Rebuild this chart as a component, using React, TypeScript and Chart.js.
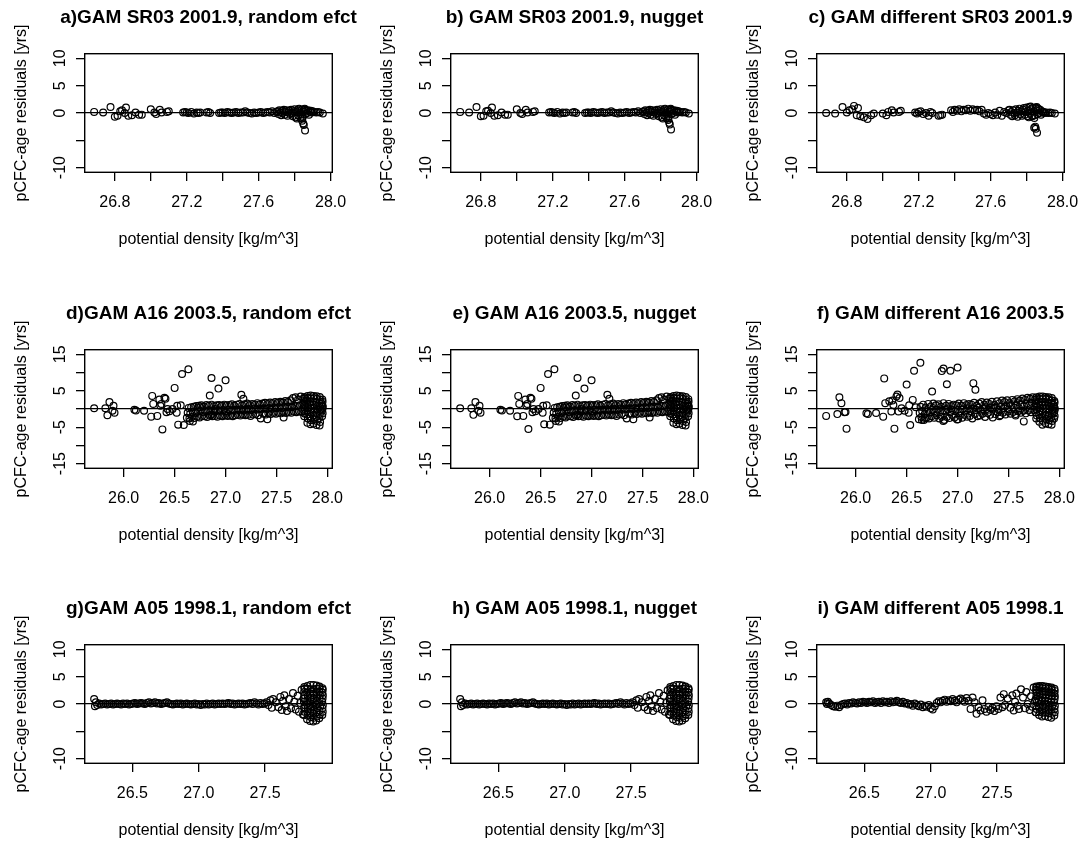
import { useEffect, useRef } from "react";
import { Chart, registerables } from "chart.js";

Chart.register(...registerables);

const FONT = '"Liberation Sans", Arial, Helvetica, sans-serif';

// ---------- SR03 2001.9 ----------
const SR03_DENSITY = [
  26.685, 26.735, 26.776, 26.8, 26.815, 26.83, 26.84, 26.855, 26.862, 26.875,
  26.895, 26.915, 26.935, 26.95, 27.0, 27.02, 27.03, 27.05, 27.06, 27.09,
  27.1,
  27.18, 27.19, 27.2, 27.21, 27.225, 27.24, 27.255, 27.265, 27.275,
  27.31, 27.32, 27.33,
  27.38, 27.39, 27.4, 27.412, 27.425, 27.437, 27.45, 27.462, 27.475, 27.487,
  27.5, 27.512, 27.525, 27.537, 27.55, 27.562, 27.575, 27.587, 27.6, 27.612,
  27.625, 27.637, 27.65, 27.662, 27.675, 27.687, 27.7,
  27.705, 27.71, 27.715, 27.72, 27.725, 27.73, 27.735, 27.74, 27.745, 27.75,
  27.755, 27.76, 27.765, 27.77, 27.775, 27.78, 27.785, 27.79, 27.795, 27.8,
  27.805, 27.81, 27.815, 27.82, 27.825, 27.83, 27.835, 27.84, 27.845, 27.85,
  27.855, 27.86, 27.865, 27.87, 27.875, 27.88, 27.885, 27.89, 27.895, 27.9,
  27.812, 27.822, 27.832, 27.842, 27.848, 27.852, 27.858, 27.843, 27.851, 27.856,
  27.91, 27.92, 27.93, 27.94, 27.957,
];
const SR03_RESID_RANDOM = [
  0.2, 0.1, 1.1, -0.7, -0.5, 0.3, 0.5, 0.0, 1.0, -0.5,
  -0.4, 0.1, -0.3, -0.3, 0.7, 0.1, -0.2, 0.6, 0.1, 0.2,
  0.3,
  0.1, 0.2, 0.1, 0.0, 0.2, -0.1, 0.1, 0.0, 0.1,
  0.1, 0.2, 0.0,
  0.0, 0.1, 0.1, 0.0, 0.2, 0.1, 0.0, 0.1, 0.2, 0.0,
  0.1, 0.1, 0.3, 0.1, 0.0, -0.1, 0.1, 0.0, 0.1, 0.2,
  0.0, 0.1, 0.2, 0.1, 0.3, 0.0, 0.2,
  0.3, -0.2, 0.5, 0.1, -0.4, 0.4, 0.0, 0.6, -0.3, 0.2,
  0.5, -0.5, 0.1, 0.4, -0.2, 0.6, 0.0, -0.6, 0.3, 0.7,
  -0.8, 0.2, 0.5, -0.4, 0.8, 0.1, -0.3, 0.6, -0.7, 0.3,
  0.7, -0.2, 0.4, 0.0, 0.5, -0.3, 0.2, 0.4, 0.1, 0.3,
  -1.0, 0.7, -0.9, -1.4, -1.9, 0.6, -3.2, -1.0, -2.2, 0.8,
  0.2, 0.1, 0.2, 0.1, -0.1,
];
const SR03_RESID_NUGGET = [
  0.2, 0.1, 1.1, -0.6, -0.5, 0.3, 0.4, 0.0, 1.0, -0.5,
  -0.4, 0.1, -0.3, -0.3, 0.7, 0.0, -0.2, 0.6, 0.1, 0.2,
  0.3,
  0.1, 0.2, 0.1, 0.0, 0.2, -0.1, 0.1, 0.0, 0.1,
  0.1, 0.2, 0.0,
  0.0, 0.1, 0.1, 0.0, 0.2, 0.1, 0.0, 0.1, 0.2, 0.0,
  0.1, 0.1, 0.3, 0.1, 0.0, -0.1, 0.1, 0.0, 0.1, 0.2,
  0.0, 0.1, 0.2, 0.1, 0.3, 0.0, 0.2,
  0.3, -0.2, 0.5, 0.1, -0.4, 0.4, 0.0, 0.6, -0.3, 0.2,
  0.5, -0.5, 0.1, 0.4, -0.2, 0.6, 0.0, -0.6, 0.3, 0.7,
  -0.8, 0.2, 0.5, -0.4, 0.8, 0.1, -0.3, 0.6, -0.7, 0.3,
  0.7, -0.2, 0.4, 0.0, 0.5, -0.3, 0.2, 0.4, 0.1, 0.3,
  -1.0, 0.7, -0.9, -1.3, -1.8, 0.6, -3.0, -1.0, -2.1, 0.8,
  0.2, 0.1, 0.2, 0.1, -0.1,
];
const SR03_RESID_DIFFERENT = [
  0.0, -0.1, 1.1, 0.1, 0.5, 0.7, 1.3, -0.4, 0.9, -0.6,
  -0.8, -1.1, -0.4, -0.1, -0.1, -0.4, 0.2, 0.5, 0.1, 0.2,
  0.4,
  0.1, -0.1, 0.2, 0.3, -0.2, 0.0, -0.5, 0.2, 0.0,
  -0.5, -0.4, -0.3,
  0.5, 0.2, 0.6, 0.4, 0.7, 0.3, 0.6, 0.5, 0.8, 0.4,
  0.7, 0.5, 0.6, 0.3, 0.6, -0.1, -0.3, 0.0, -0.2, -0.4,
  0.1, -0.3, 0.4, -0.5, 0.2, 0.0, 0.5,
  0.6, -0.3, 0.2, -0.6, 0.5, 0.0, -0.4, 0.7, 0.1, -0.7,
  0.4, 0.8, -0.2, 0.3, -0.5, 0.6, 0.9, -0.3, 0.2, 1.0,
  -0.6, 0.4, 1.1, -0.1, 0.7, -0.5, 0.9, 0.3, -0.4, 1.0,
  0.5, -0.2, 0.8, 0.0, 0.6, -0.3, 0.3, 0.1, 0.2, 0.0,
  -0.8, 1.2, -0.6, -2.7, -2.5, 0.9, -3.6, -0.9, -2.9, 1.1,
  0.1, 0.0, 0.1, 0.0, -0.1,
];

// ---------- A16 2003.5 ----------
const A16_DENSITY = [
  25.71, 25.82, 25.84, 25.86, 25.89, 25.9, 25.91, 26.105, 26.12, 26.2,
  26.27, 26.28, 26.29, 26.33, 26.35, 26.36, 26.37, 26.38, 26.4, 26.41,
  26.42, 26.43, 26.45, 26.48, 26.5, 26.52, 26.525, 26.535, 26.573, 26.56,
  26.59, 26.635, 26.65, 26.68, 26.75, 26.845, 26.862, 26.895, 26.93, 27.0,
  27.155, 27.175, 27.41, 27.57, 26.86, 27.005, 27.65,
  26.62, 26.628, 26.637, 26.645, 26.653, 26.662, 26.67, 26.678, 26.687, 26.695,
  26.703, 26.712, 26.72, 26.728, 26.737, 26.745, 26.753, 26.762, 26.77, 26.778,
  26.787, 26.795, 26.803, 26.812, 26.82, 26.828, 26.837, 26.845, 26.853, 26.862,
  26.87, 26.878, 26.887, 26.895, 26.903, 26.912, 26.92, 26.928, 26.937, 26.945,
  26.953, 26.962, 26.97, 26.978, 26.987, 26.995, 27.003, 27.012, 27.02, 27.028,
  27.037, 27.045, 27.053, 27.062, 27.07, 27.078, 27.087, 27.095, 27.103, 27.112,
  27.12, 27.128, 27.137, 27.145, 27.153, 27.162, 27.17, 27.178, 27.187, 27.195,
  27.203, 27.212, 27.22, 27.228, 27.237, 27.245, 27.253, 27.262, 27.27, 27.278,
  27.287, 27.295, 27.303, 27.312, 27.32, 27.328, 27.337, 27.345, 27.353, 27.362,
  27.37, 27.378, 27.387, 27.395, 27.403, 27.412, 27.42, 27.428, 27.437, 27.445,
  27.453, 27.462, 27.47, 27.478, 27.487, 27.495, 27.503, 27.512, 27.52, 27.528,
  27.537, 27.545, 27.553, 27.562, 27.57, 27.578, 27.587, 27.595, 27.603, 27.612,
  27.62, 27.628, 27.637, 27.645, 27.653, 27.662, 27.67, 27.678, 27.687, 27.695,
  27.703, 27.712, 27.72, 27.728, 27.737, 27.745, 27.753, 27.762,
  27.772, 27.778, 27.77, 27.776, 27.781, 27.774, 27.769, 27.779, 27.775,
  27.803, 27.808, 27.801, 27.806, 27.81, 27.804, 27.799, 27.807, 27.805,
  27.833, 27.838, 27.831, 27.836, 27.84, 27.834, 27.829, 27.837, 27.835,
  27.863, 27.868, 27.861, 27.866, 27.87, 27.864, 27.859, 27.867, 27.865,
  27.893, 27.898, 27.891, 27.896, 27.9, 27.894, 27.889, 27.897, 27.895,
  27.923, 27.928, 27.921, 27.926, 27.93, 27.924, 27.919, 27.927, 27.925,
  27.948, 27.953, 27.946, 27.951, 27.955, 27.949, 27.944, 27.952, 27.95,
];
const A16_RESID_RANDOM = [
  0.2, 0.2, -1.7, 1.9, -0.5, 0.9, -1.0, -0.2, -0.4, -0.5,
  -2.1, 3.6, 1.4, -1.9, 2.6, 0.9, 1.4, -5.6, 3.1, 2.8,
  -0.9, 0.0, -0.6, 0.0, 5.8, -1.0, 0.9, -4.3, 9.6, 1.0,
  -4.4, 10.9, -3.3, -3.4, 0.5, 3.7, 8.5, 0.0, 5.6, 7.9,
  3.9, 2.8, -2.8, -2.3, -1.5, -1.0, 0.5,
  -2.4, -1.0, 0.3, -2.6, -1.3, 0.5, -2.2, -0.9, 0.6, -2.5,
  -1.1, 0.8, -2.1, -0.7, 0.9, -2.3, -0.5, 1.0, -1.9, -0.8,
  0.7, -2.0, -0.6, 1.1, -2.2, -0.4, 0.9, -1.8, -0.7, 1.2,
  -2.0, -0.5, 0.8, -1.9, -0.6, 1.0, -2.1, -0.4, 1.1, -1.8,
  -0.5, 0.9, -2.0, -0.3, 1.2, -1.7, -0.6, 1.0, -1.9, -0.2,
  1.1, -1.8, -0.4, 1.3, -2.0, -0.3, 0.9, -1.7, -0.2, 1.2,
  -1.6, -0.3, 1.4, -1.8, -0.1, 1.0, -1.5, -0.4, 1.3, -1.7,
  -0.2, 1.5, -1.6, 0.0, 1.1, -1.9, -0.3, 1.4, -1.5, 0.1,
  1.2, -1.4, -0.2, 1.6, -1.7, 0.1, 1.3, -2.6, 0.0, 1.5,
  -1.3, 0.2, 1.7, -1.5, 0.0, 1.4, -1.2, 0.3, 1.8, -1.4,
  0.1, 1.6, -1.1, 0.4, 1.9, -1.3, 0.2, 1.7, -1.0, 0.5,
  2.0, -1.2, 0.3, 1.8, -0.9, 0.6, 2.2, -1.1, 0.5, 1.9,
  -0.8, 0.7, 2.4, -1.0, 0.6, 3.0, -0.7, 0.9, 3.2, -0.9,
  0.8, 2.6, -0.6, 1.0, 3.4, -0.8, 1.2, 2.8,
  -2.0, -1.3, -0.6, 0.1, 0.8, 1.5, 2.2, 2.9, 3.3,
  -3.8, -2.6, -1.5, -0.5, 0.5, 1.4, 2.3, 3.1, 3.6,
  -4.2, -3.1, -2.0, -0.9, 0.1, 1.1, 2.0, 2.9, 3.7,
  -4.0, -2.9, -1.8, -0.8, 0.2, 1.2, 2.1, 3.0, 3.6,
  -4.4, -3.3, -2.2, -1.1, -0.1, 0.9, 1.9, 2.8, 3.5,
  -4.5, -3.6, -2.5, -1.4, -0.3, 0.7, 1.6, 2.5, 3.3,
  -2.0, -1.2, -0.5, 0.0, 0.6, 1.0, 1.5, 2.0, 2.6,
];
const A16_RESID_NUGGET = [
  0.2, 0.2, -1.6, 1.9, -0.5, 0.9, -1.0, -0.2, -0.4, -0.5,
  -2.0, 3.6, 1.4, -1.9, 2.6, 0.9, 1.4, -5.5, 3.1, 2.8,
  -0.9, 0.0, -0.6, 0.0, 5.8, -1.0, 0.9, -4.2, 9.6, 1.0,
  -4.3, 10.9, -3.3, -3.4, 0.5, 3.7, 8.5, 0.0, 5.6, 7.9,
  3.9, 2.8, -2.8, -2.3, -1.5, -1.0, 0.5,
  -2.4, -1.0, 0.3, -2.6, -1.3, 0.5, -2.2, -0.9, 0.6, -2.5,
  -1.1, 0.8, -2.1, -0.7, 0.9, -2.3, -0.5, 1.0, -1.9, -0.8,
  0.7, -2.0, -0.6, 1.1, -2.2, -0.4, 0.9, -1.8, -0.7, 1.2,
  -2.0, -0.5, 0.8, -1.9, -0.6, 1.0, -2.1, -0.4, 1.1, -1.8,
  -0.5, 0.9, -2.0, -0.3, 1.2, -1.7, -0.6, 1.0, -1.9, -0.2,
  1.1, -1.8, -0.4, 1.3, -2.0, -0.3, 0.9, -1.7, -0.2, 1.2,
  -1.6, -0.3, 1.4, -1.8, -0.1, 1.0, -1.5, -0.4, 1.3, -1.7,
  -0.2, 1.5, -1.6, 0.0, 1.1, -1.9, -0.3, 1.4, -1.5, 0.1,
  1.2, -1.4, -0.2, 1.6, -1.7, 0.1, 1.3, -2.6, 0.0, 1.5,
  -1.3, 0.2, 1.7, -1.5, 0.0, 1.4, -1.2, 0.3, 1.8, -1.4,
  0.1, 1.6, -1.1, 0.4, 1.9, -1.3, 0.2, 1.7, -1.0, 0.5,
  2.0, -1.2, 0.3, 1.8, -0.9, 0.6, 2.2, -1.1, 0.5, 1.9,
  -0.8, 0.7, 2.4, -1.0, 0.6, 3.0, -0.7, 0.9, 3.2, -0.9,
  0.8, 2.6, -0.6, 1.0, 3.4, -0.8, 1.2, 2.8,
  -2.0, -1.3, -0.6, 0.1, 0.8, 1.5, 2.2, 2.9, 3.3,
  -3.8, -2.6, -1.5, -0.5, 0.5, 1.4, 2.3, 3.1, 3.6,
  -4.2, -3.1, -2.0, -0.9, 0.1, 1.1, 2.0, 2.9, 3.7,
  -4.0, -2.9, -1.8, -0.8, 0.2, 1.2, 2.1, 3.0, 3.6,
  -4.4, -3.3, -2.2, -1.1, -0.1, 0.9, 1.9, 2.8, 3.5,
  -4.5, -3.6, -2.5, -1.4, -0.3, 0.7, 1.6, 2.5, 3.3,
  -2.0, -1.2, -0.5, 0.0, 0.6, 1.0, 1.5, 2.0, 2.7,
];
const A16_RESID_DIFFERENT = [
  -1.9, -1.4, 3.2, 1.6, -0.9, -0.8, -5.4, -1.2, -1.4, -1.1,
  -2.1, 8.4, 1.6, 2.1, -0.7, 2.3, 1.1, -5.4, 3.4, 4.0,
  -0.7, 3.0, 0.2, -0.5, 6.7, -1.0, 1.0, -4.4, 10.5, 2.5,
  0.5, 12.7, -3.0, -2.5, 4.8, 10.4, 11.1, 6.8, 10.5, 11.4,
  7.1, 5.3, -2.0, -1.8, -3.3, -2.8, -3.4,
  -2.8, -1.1, 0.6, -2.2, -0.6, 1.2, -3.0, -1.4, 0.4, -2.4,
  -0.8, 1.4, -2.6, -0.9, 0.7, -2.0, -0.3, 1.5, -2.4, -1.0,
  1.0, -1.7, -0.2, 1.3, -2.6, -0.8, 0.6, -2.1, -0.5, 1.6,
  -3.0, -0.7, 0.9, -2.2, -0.1, 1.4, -2.5, -0.9, 0.8, -1.6,
  -0.3, 1.2, -2.3, -0.6, 1.0, -2.9, -0.2, 1.5, -1.8, -0.7,
  0.9, -2.4, -0.1, 1.6, -1.6, -0.5, 1.1, -2.1, 0.2, 1.4,
  -1.9, -0.6, 1.2, -2.6, 0.1, 1.7, -1.4, -0.3, 0.9, -2.0,
  0.3, 1.5, -1.8, -0.4, 1.9, -1.3, 0.0, 1.2, -2.2, 0.5,
  1.8, -1.1, -0.2, 1.4, -1.6, 0.4, 2.0, -2.3, 0.1, 1.1,
  -1.4, 0.5, 2.1, -0.9, -0.2, 1.6, -1.7, 0.7, 2.3, -1.0,
  0.3, 1.9, -1.5, 0.8, 2.4, -0.7, -0.1, 1.6, -1.3, 1.0,
  2.5, -0.8, 0.4, 2.1, -1.4, 1.1, 2.7, -0.6, 0.2, 2.3,
  -1.0, 1.3, 2.9, -0.5, 0.8, 2.5, -1.2, 1.5, 3.1, -0.4,
  1.0, 2.8, -0.9, 1.7, 3.2, -0.3, 0.6, 2.6,
  -2.6, -1.8, -1.0, -0.2, 0.6, 1.4, 2.1, 2.7, 3.2,
  -3.5, -2.5, -1.5, -0.6, 0.3, 1.2, 2.0, 2.8, 3.4,
  -4.3, -3.2, -2.1, -1.0, 0.0, 1.0, 1.9, 2.7, 3.4,
  -3.9, -2.8, -1.8, -0.8, 0.2, 1.1, 2.0, 2.8, 3.3,
  -4.2, -3.1, -2.0, -1.0, 0.0, 0.9, 1.8, 2.6, 3.2,
  -4.3, -3.3, -2.3, -1.3, -0.3, 0.6, 1.5, 2.3, 3.0,
  -2.6, -1.9, -1.2, -0.5, 0.1, 0.6, 1.1, 1.7, 2.2,
];

// ---------- A05 1998.1 ----------
const A05_DENSITY = [
  26.212, 26.218, 26.225, 26.235, 26.25, 26.265, 26.28, 26.295, 26.31, 26.325,
  26.34, 26.355, 26.37, 26.385, 26.4, 26.415, 26.43, 26.445, 26.46, 26.475,
  26.49, 26.505, 26.52, 26.535, 26.55, 26.565, 26.58, 26.595, 26.61, 26.625,
  26.64, 26.655, 26.67, 26.685, 26.7, 26.715, 26.73, 26.745, 26.76, 26.775,
  26.79, 26.805, 26.82, 26.835, 26.85, 26.865, 26.88, 26.895, 26.91, 26.925,
  26.94, 26.955, 26.97, 26.985, 27.0, 27.015, 27.03, 27.045, 27.06, 27.075,
  27.09, 27.105, 27.12, 27.135, 27.15, 27.165, 27.18, 27.195, 27.21, 27.225,
  27.24, 27.255, 27.27, 27.285, 27.3, 27.315, 27.33, 27.345, 27.36, 27.375,
  27.39, 27.405, 27.42, 27.435, 27.45, 27.465, 27.48, 27.495, 27.51, 27.525,
  27.54, 27.55, 27.56,
  27.58, 27.6, 27.615, 27.625, 27.635, 27.645, 27.655, 27.665, 27.68, 27.695,
  27.71, 27.72, 27.73, 27.745, 27.755, 27.765, 27.775, 27.785, 27.79, 27.795,
  27.793, 27.797, 27.795, 27.799, 27.792, 27.796, 27.798, 27.794, 27.797, 27.795,
  27.816, 27.82, 27.818, 27.822, 27.815, 27.819, 27.821, 27.817, 27.82, 27.818,
  27.839, 27.843, 27.841, 27.845, 27.838, 27.842, 27.844, 27.84, 27.843, 27.841,
  27.862, 27.866, 27.864, 27.868, 27.861, 27.865, 27.867, 27.863, 27.866, 27.864,
  27.885, 27.889, 27.887, 27.891, 27.884, 27.888, 27.89, 27.886, 27.889, 27.887,
  27.908, 27.912, 27.91, 27.914, 27.907, 27.911, 27.913, 27.909, 27.912, 27.91,
  27.931, 27.934, 27.932, 27.935, 27.93, 27.933, 27.935, 27.931, 27.934, 27.932,
];
const A05_RESID_RANDOM = [
  0.9, -0.4, 0.3, -0.2, 0.1, -0.1, 0.0, 0.1, -0.1, 0.0,
  0.1, -0.1, 0.0, 0.1, 0.0, -0.1, 0.1, 0.0, 0.1, -0.1,
  0.0, 0.1, 0.2, 0.0, 0.1, 0.2, 0.1, 0.0, 0.2, 0.3,
  0.1, 0.2, 0.3, 0.1, 0.2, 0.0, 0.1, 0.2, 0.3, 0.1,
  0.0, -0.1, 0.0, 0.1, 0.0, 0.1, -0.1, 0.0, 0.1, 0.0,
  -0.1, 0.0, 0.1, -0.1, 0.0, -0.2, 0.0, -0.1, 0.1, -0.1,
  0.0, 0.1, -0.1, 0.0, 0.1, 0.0, 0.1, 0.0, 0.1, 0.2,
  0.0, 0.1, -0.1, 0.0, 0.1, 0.0, 0.1, -0.1, 0.0, 0.1,
  0.2, 0.0, 0.3, 0.1, -0.1, 0.2, 0.0, 0.1, 0.3, -0.2,
  0.7, -0.7, 0.9,
  0.3, -0.6, 1.3, -1.1, 0.6, 1.6, -0.4, -1.3, 0.9, -0.8,
  2.0, 0.4, -1.0, 1.5, -1.4, 0.2, 2.6, -1.9, 1.0, -0.6,
  -2.0, -1.4, -0.8, -0.2, 0.4, 1.0, 1.6, 2.2, 2.8, 3.1,
  -2.8, -2.1, -1.4, -0.7, 0.0, 0.7, 1.4, 2.1, 2.8, 3.3,
  -3.1, -2.4, -1.6, -0.9, -0.2, 0.5, 1.2, 1.9, 2.7, 3.5,
  -3.2, -2.5, -1.7, -1.0, -0.3, 0.4, 1.1, 1.9, 2.7, 3.5,
  -3.0, -2.3, -1.5, -0.8, -0.1, 0.6, 1.3, 2.1, 2.8, 3.4,
  -2.6, -1.9, -1.2, -0.5, 0.2, 0.9, 1.6, 2.3, 2.9, 3.2,
  -2.0, -1.4, -0.8, -0.2, 0.4, 1.0, 1.6, 2.1, 2.6, 2.9,
];
const A05_RESID_NUGGET = [
  0.9, -0.4, 0.3, -0.2, 0.1, -0.1, 0.0, 0.1, -0.1, 0.0,
  0.1, -0.1, 0.0, 0.1, 0.0, -0.1, 0.1, 0.0, 0.1, -0.1,
  0.0, 0.1, 0.2, 0.0, 0.1, 0.2, 0.1, 0.0, 0.2, 0.3,
  0.1, 0.2, 0.3, 0.1, 0.2, 0.0, 0.1, 0.2, 0.3, 0.1,
  0.0, -0.1, 0.0, 0.1, 0.0, 0.1, -0.1, 0.0, 0.1, 0.0,
  -0.1, 0.0, 0.1, -0.1, 0.0, -0.2, 0.0, -0.1, 0.1, -0.1,
  0.0, 0.1, -0.1, 0.0, 0.1, 0.0, 0.1, 0.0, 0.1, 0.2,
  0.0, 0.1, -0.1, 0.0, 0.1, 0.0, 0.1, -0.1, 0.0, 0.1,
  0.2, 0.0, 0.3, 0.1, -0.1, 0.2, 0.0, 0.1, 0.3, -0.2,
  0.7, -0.7, 0.9,
  0.3, -0.6, 1.3, -1.1, 0.6, 1.6, -0.4, -1.3, 0.9, -0.8,
  2.0, 0.4, -1.0, 1.5, -1.4, 0.2, 2.5, -1.9, 1.0, -0.6,
  -2.0, -1.4, -0.8, -0.2, 0.4, 1.0, 1.6, 2.2, 2.8, 3.1,
  -2.8, -2.1, -1.4, -0.7, 0.0, 0.7, 1.4, 2.1, 2.8, 3.3,
  -3.1, -2.4, -1.6, -0.9, -0.2, 0.5, 1.2, 1.9, 2.7, 3.5,
  -3.2, -2.5, -1.7, -1.0, -0.3, 0.4, 1.1, 1.9, 2.7, 3.5,
  -3.0, -2.3, -1.5, -0.8, -0.1, 0.6, 1.3, 2.1, 2.8, 3.4,
  -2.6, -1.9, -1.2, -0.5, 0.2, 0.9, 1.6, 2.3, 2.9, 3.2,
  -2.0, -1.4, -0.8, -0.2, 0.4, 1.0, 1.6, 2.1, 2.6, 2.9,
];
const A05_RESID_DIFFERENT = [
  0.3, 0.0, 0.4, 0.1, -0.2, -0.4, -0.5, -0.3, -0.6, -0.2,
  0.0, 0.1, -0.1, 0.2, 0.1, 0.3, 0.2, 0.1, 0.3, 0.2,
  0.4, 0.3, 0.2, 0.4, 0.3, 0.5, 0.2, 0.3, 0.4, 0.2,
  0.5, 0.3, 0.4, 0.2, 0.5, 0.3, 0.4, 0.6, 0.3, 0.2,
  0.4, 0.1, 0.2, -0.1, 0.0, -0.3, 0.1, -0.2, -0.4, -0.1,
  -0.6, -0.3, -0.5, -0.2, -0.8, -1.0, -0.4, 0.2, 0.5, 0.3,
  0.6, 0.8, 0.4, 0.7, 0.5, 0.9, 0.6, 0.3, 0.8, 1.0,
  0.7, 0.4, 1.1, 0.6, -0.9, 1.2, 0.3, -1.8, -0.6, -1.2,
  0.7, -0.9, -1.4, -0.5, -1.1, -0.7, -1.3, -0.4, -0.9, 1.2,
  -0.6, 1.8, -0.2,
  1.0, -0.7, 1.6, -1.2, 0.4, 1.9, -0.3, -0.9, 2.7, 1.2,
  -0.8, 2.2, 0.0, -1.1, 1.4, -0.5, 3.0, 0.6, -1.5, 2.4,
  -1.5, -0.9, -0.3, 0.3, 0.9, 1.5, 2.1, 2.6, 3.0, 3.2,
  -2.0, -1.4, -0.7, 0.0, 0.7, 1.3, 1.9, 2.5, 3.0, 3.3,
  -2.3, -1.6, -0.9, -0.2, 0.5, 1.1, 1.7, 2.3, 2.9, 3.3,
  -2.2, -1.5, -0.8, -0.1, 0.6, 1.2, 1.8, 2.4, 2.9, 3.2,
  -2.4, -1.7, -1.0, -0.3, 0.4, 1.0, 1.6, 2.2, 2.8, 3.1,
  -2.5, -1.8, -1.1, -0.4, 0.3, 0.9, 1.5, 2.1, 2.6, 3.0,
  -2.1, -1.5, -0.9, -0.3, 0.3, 0.9, 1.4, 1.9, 2.4, 2.8,
];

// ---------- axes ----------
const SR03_X_TICKS = [26.8, 27.0, 27.2, 27.4, 27.6, 27.8, 28.0];
const SR03_X_LABELS = ["26.8", "27.2", "27.6", "28.0"];
const A16_X_TICKS = [26.0, 26.5, 27.0, 27.5, 28.0];
const A16_X_LABELS = ["26.0", "26.5", "27.0", "27.5", "28.0"];
const A05_X_TICKS = [26.5, 27.0, 27.5];
const A05_X_LABELS = ["26.5", "27.0", "27.5"];
const Y_TICKS_10 = [-10, -5, 0, 5, 10];
const Y_LABELS_10 = ["10", "5", "0", "-10"];
const Y_TICKS_15 = [-15, -10, -5, 0, 5, 10, 15];
const Y_LABELS_15 = ["15", "5", "-5", "-15"];
const X_TITLE = "potential density [kg/m^3]";
const Y_TITLE = "pCFC-age residuals [yrs]";

type PanelSpec = {
  title: string;
  x: number[];
  y: number[];
  xTicks: number[];
  xLabels: string[];
  yTicks: number[];
  yLabels: string[];
  yLim: [number, number];
  row: number;
  col: number;
};

const PANELS: PanelSpec[] = [
  { title: "a)GAM SR03 2001.9, random efct", x: SR03_DENSITY, y: SR03_RESID_RANDOM, xTicks: SR03_X_TICKS, xLabels: SR03_X_LABELS, yTicks: Y_TICKS_10, yLabels: Y_LABELS_10, yLim: [-10, 10], row: 0, col: 0 },
  { title: "b) GAM SR03 2001.9, nugget", x: SR03_DENSITY, y: SR03_RESID_NUGGET, xTicks: SR03_X_TICKS, xLabels: SR03_X_LABELS, yTicks: Y_TICKS_10, yLabels: Y_LABELS_10, yLim: [-10, 10], row: 0, col: 1 },
  { title: "c) GAM different SR03 2001.9", x: SR03_DENSITY, y: SR03_RESID_DIFFERENT, xTicks: SR03_X_TICKS, xLabels: SR03_X_LABELS, yTicks: Y_TICKS_10, yLabels: Y_LABELS_10, yLim: [-10, 10], row: 0, col: 2 },
  { title: "d)GAM A16 2003.5, random efct", x: A16_DENSITY, y: A16_RESID_RANDOM, xTicks: A16_X_TICKS, xLabels: A16_X_LABELS, yTicks: Y_TICKS_15, yLabels: Y_LABELS_15, yLim: [-15, 15], row: 1, col: 0 },
  { title: "e) GAM A16 2003.5, nugget", x: A16_DENSITY, y: A16_RESID_NUGGET, xTicks: A16_X_TICKS, xLabels: A16_X_LABELS, yTicks: Y_TICKS_15, yLabels: Y_LABELS_15, yLim: [-15, 15], row: 1, col: 1 },
  { title: "f) GAM different A16 2003.5", x: A16_DENSITY, y: A16_RESID_DIFFERENT, xTicks: A16_X_TICKS, xLabels: A16_X_LABELS, yTicks: Y_TICKS_15, yLabels: Y_LABELS_15, yLim: [-15, 15], row: 1, col: 2 },
  { title: "g)GAM A05 1998.1, random efct", x: A05_DENSITY, y: A05_RESID_RANDOM, xTicks: A05_X_TICKS, xLabels: A05_X_LABELS, yTicks: Y_TICKS_10, yLabels: Y_LABELS_10, yLim: [-10, 10], row: 2, col: 0 },
  { title: "h) GAM A05 1998.1, nugget", x: A05_DENSITY, y: A05_RESID_NUGGET, xTicks: A05_X_TICKS, xLabels: A05_X_LABELS, yTicks: Y_TICKS_10, yLabels: Y_LABELS_10, yLim: [-10, 10], row: 2, col: 1 },
  { title: "i) GAM different A05 1998.1", x: A05_DENSITY, y: A05_RESID_DIFFERENT, xTicks: A05_X_TICKS, xLabels: A05_X_LABELS, yTicks: Y_TICKS_10, yLabels: Y_LABELS_10, yLim: [-10, 10], row: 2, col: 2 },
];

// panel geometry (canvas pixels)
const COL_LEFT = [0, 366, 732];
const ROW_TOP = [0, 296, 591];
const CANVAS_W = 417;
const CANVAS_H = 296;
const LEFT_AXIS_W = 85;
const RIGHT_SPACER_W = 85;
const BOTTOM_AXIS_H = 124;

// R-style axis extension: 4% on each side of the range
function extendRange(lo: number, hi: number): [number, number] {
  const d = (hi - lo) * 0.04;
  return [lo - d, hi + d];
}

// plot frame drawn around the chart area
const framePlugin = {
  id: "plotFrame",
  afterDraw(chart: any) {
    const { ctx, chartArea: a } = chart;
    ctx.save();
    ctx.strokeStyle = "#000";
    ctx.lineWidth = 1.4;
    ctx.strokeRect(
      Math.round(a.left) - 0.3,
      Math.round(a.top) - 0.3,
      Math.round(a.right - a.left) + 0.6,
      Math.round(a.bottom - a.top) + 0.6
    );
    ctx.restore();
  },
};

function Panel({ spec }: { spec: PanelSpec }) {
  const ref = useRef<HTMLCanvasElement>(null);

  useEffect(() => {
    const canvas = ref.current;
    if (!canvas) return;
    const [xMin, xMax] = extendRange(Math.min(...spec.x), Math.max(...spec.x));
    const [yMin, yMax] = extendRange(spec.yLim[0], spec.yLim[1]);
    const points = spec.x.map((x, i) => ({ x, y: spec.y[i] }));
    const tickFont = { family: FONT, size: 16 };

    const chart = new Chart(canvas, {
      type: "scatter",
      data: {
        datasets: [
          {
            data: points,
            showLine: false,
            pointStyle: "circle",
            pointRadius: 3.4,
            pointHoverRadius: 3.4,
            pointBorderWidth: 1.2,
            pointBorderColor: "#000",
            pointBackgroundColor: "rgba(0,0,0,0)",
          },
        ],
      },
      options: {
        responsive: false,
        animation: false,
        devicePixelRatio: 1,
        events: [],
        layout: { padding: 0 },
        plugins: {
          legend: { display: false },
          tooltip: { enabled: false },
          title: {
            display: true,
            text: spec.title,
            color: "#000",
            font: { family: FONT, size: 19, weight: "bold", lineHeight: 1.2 },
            padding: { top: 6, bottom: 25.2 },
          },
        },
        scales: {
          x: {
            type: "linear",
            position: "bottom",
            min: xMin,
            max: xMax,
            afterBuildTicks: (s: any) => {
              s.ticks = spec.xTicks.map((value) => ({ value }));
            },
            afterFit: (s: any) => {
              s.height = BOTTOM_AXIS_H;
            },
            ticks: {
              autoSkip: false,
              maxRotation: 0,
              minRotation: 0,
              padding: 12,
              color: "#000",
              font: tickFont,
              callback: (v: any) => {
                const t = Number(v).toFixed(1);
                return spec.xLabels.includes(t) ? t : "";
              },
            },
            grid: {
              drawOnChartArea: false,
              drawTicks: true,
              tickLength: 9,
              tickColor: "#000",
              tickWidth: 1.3,
              color: "#000",
              lineWidth: 1.3,
            },
            border: { display: false },
            title: {
              display: true,
              text: X_TITLE,
              color: "#000",
              font: { family: FONT, size: 16, lineHeight: 1.2 },
              padding: { top: 0, bottom: 46.4 },
            },
          },
          y: {
            type: "linear",
            position: "left",
            min: yMin,
            max: yMax,
            afterBuildTicks: (s: any) => {
              s.ticks = spec.yTicks.map((value) => ({ value }));
            },
            afterFit: (s: any) => {
              s.width = LEFT_AXIS_W;
            },
            ticks: {
              autoSkip: false,
              minRotation: 90,
              maxRotation: 90,
              crossAlign: "center",
              padding: 4,
              color: "#000",
              font: tickFont,
              callback: (v: any) => {
                const t = String(Math.round(Number(v)));
                return spec.yLabels.includes(t) ? t : "";
              },
            },
            grid: {
              drawOnChartArea: true,
              drawTicks: true,
              tickLength: 9,
              tickColor: "#000",
              tickWidth: 1.3,
              lineWidth: 1.3,
              color: (c: any) =>
                c.tick && c.tick.value === 0 ? "#000" : "rgba(0,0,0,0)",
            },
            border: { display: false },
            title: {
              display: true,
              text: Y_TITLE,
              color: "#000",
              font: { family: FONT, size: 16, lineHeight: 1.2 },
              padding: { top: 12, bottom: 0 },
            },
          },
          spacer: {
            type: "linear",
            position: "right",
            display: true,
            afterFit: (s: any) => {
              s.width = RIGHT_SPACER_W;
            },
            ticks: { display: false },
            grid: { display: false },
            border: { display: false },
          },
        },
      } as any,
      plugins: [framePlugin],
    });

    return () => chart.destroy();
  }, [spec]);

  return (
    <canvas
      ref={ref}
      width={CANVAS_W}
      height={CANVAS_H}
      style={{
        position: "absolute",
        left: COL_LEFT[spec.col],
        top: ROW_TOP[spec.row],
        width: CANVAS_W,
        height: CANVAS_H,
        display: "block",
      }}
    />
  );
}

export default function App() {
  return (
    <div
      style={{
        position: "absolute",
        left: 0,
        top: 0,
        width: 1085,
        height: 842,
        overflow: "hidden",
        background: "#fff",
      }}
    >
      {PANELS.map((p) => (
        <Panel key={p.title} spec={p} />
      ))}
    </div>
  );
}
